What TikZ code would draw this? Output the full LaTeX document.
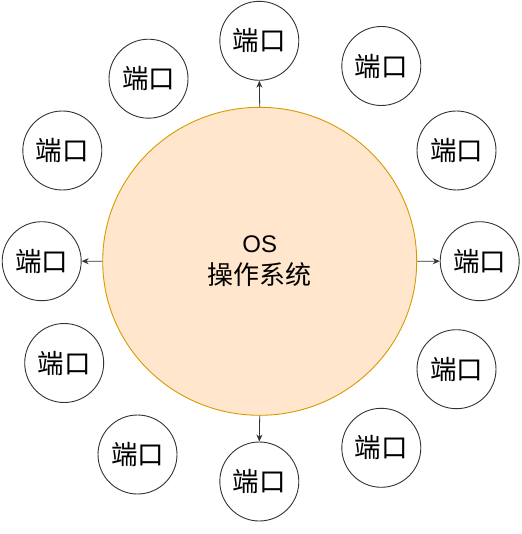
\documentclass[tikz,border=0pt]{standalone}
\usepackage{fontspec}
\setmainfont{Noto Sans CJK SC}
\newfontfamily\latinfont{Liberation Sans}
\usetikzlibrary{shapes.geometric,arrows.meta}
\definecolor{osfill}{HTML}{FFE6CC}
\definecolor{osline}{HTML}{D79B00}
\definecolor{portline}{HTML}{333333}
\tikzset{
  port/.style={circle, draw=portline, line width=0.9pt, fill=white, minimum size=79pt, inner sep=0pt, font=\fontsize{26.5pt}{30pt}\selectfont},
  osnode/.style={ellipse, draw=osline, line width=0.9pt, fill=osfill, minimum width=314pt, minimum height=308pt, inner sep=0pt, align=center, font=\fontsize{26pt}{32pt}\selectfont},
  link/.style={draw=portline, line width=0.8pt, -{Stealth[length=7pt,width=6pt]}}
}
\begin{document}
\begin{tikzpicture}[x=1pt,y=-1pt]
\useasboundingbox (0,0) rectangle (521,534);
\node[osnode] (os) at (259.7,261.3) {{\latinfont\fontsize{24pt}{32pt}\selectfont OS}\\操作系统};
\node[port] (pt)  at (259.3,40.8) {端口};
\node[port] (pul) at (148.5,78.7) {端口};
\node[port] (pur) at (381.3,66) {端口};
\node[port] (plu) at (62.3,150.5) {端口};
\node[port] (pru) at (456.5,150.5) {端口};
\node[port] (pl)  at (41.7,261.2) {端口};
\node[port] (pr)  at (479.7,261.2) {端口};
\node[port] (pll) at (64.2,363) {端口};
\node[port] (prl) at (456.5,369.2) {端口};
\node[port] (pbl) at (137.5,454.5) {端口};
\node[port] (pbr) at (381.3,447.8) {端口};
\node[port] (pb)  at (259.3,481.5) {端口};
\draw[link] (os.north) -- (pt.south);
\draw[link] (os.south) -- (pb.north);
\draw[link] (os.west) -- (pl.east);
\draw[link] (os.east) -- (pr.west);
\end{tikzpicture}
\end{document}
